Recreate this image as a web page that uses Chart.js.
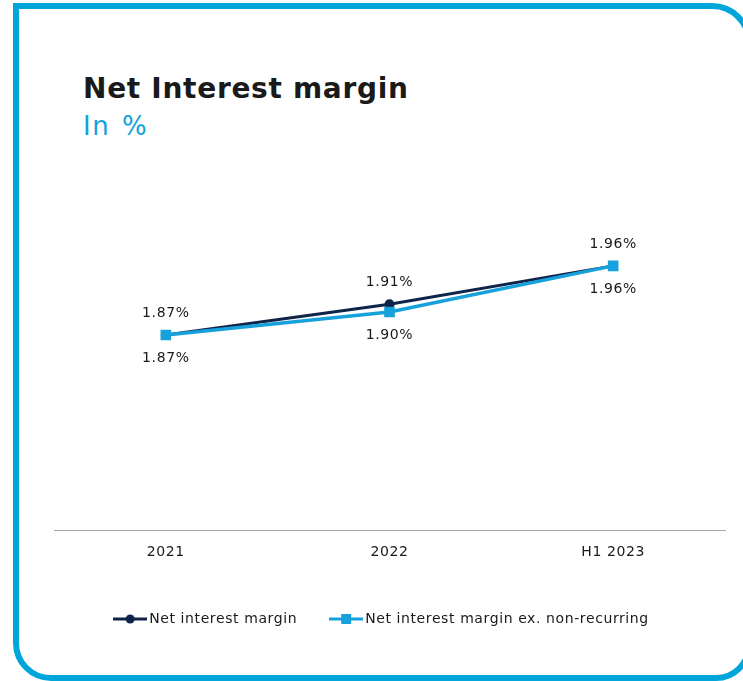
<!DOCTYPE html>
<html>
<head>
<meta charset="utf-8">
<script src="https://cdn.jsdelivr.net/npm/chart.js@4"></script>
<style>
  html, body { margin: 0; padding: 0; background: #fff; overflow: hidden; }
  body { width: 743px; height: 681px; position: relative; font-family: "DejaVu Sans", sans-serif; }
  .frame {
    position: absolute; left: 13px; top: 3px; width: 739px; height: 678px;
    box-sizing: border-box; border: 6px solid #00a6da;
    border-radius: 0 40px 36px 38px;
  }
  .title {
    position: absolute; left: 83px; top: 75px; margin: 0;
    font: bold 28px "DejaVu Sans", sans-serif; letter-spacing: 0.7px;
    color: #1a1a1a; line-height: 1;
  }
  .subtitle {
    position: absolute; left: 83px; top: 113px; margin: 0;
    font: 26px "DejaVu Sans", sans-serif; letter-spacing: 1.5px; word-spacing: 2px;
    color: #12a3dc; line-height: 1;
  }
  #nimChart { position: absolute; left: 0; top: 200px; }
</style>
</head>
<body>
<div class="frame"></div>
<h1 class="title">Net Interest margin</h1>
<h2 class="subtitle">In %</h2>
<canvas id="nimChart" width="743" height="436"></canvas>

<script>
// -----------------------------
// Data
// -----------------------------
const periods = ["2021", "2022", "H1 2023"];
const netInterestMargin = [1.87, 1.91, 1.96];
const nimExNonRecurring = [1.87, 1.90, 1.96];
const seriesNames = ["Net interest margin", "Net interest margin ex. non-recurring"];

const NAVY = "#0f2449";
const CYAN = "#16a1dc";

// -----------------------------
// Helper: legend marker (line with point)
// -----------------------------
function legendMarker(color, shape) {
  const c = document.createElement("canvas");
  c.width = 34;
  c.height = 12;
  const g = c.getContext("2d");
  g.strokeStyle = color;
  g.fillStyle = color;
  g.lineWidth = 3;
  g.beginPath();
  g.moveTo(0, 6);
  g.lineTo(34, 6);
  g.stroke();
  if (shape === "circle") {
    g.beginPath();
    g.arc(17, 6, 4.5, 0, Math.PI * 2);
    g.fill();
  } else {
    g.fillRect(12, 1, 10, 10);
  }
  return c;
}

// -----------------------------
// Plugin: wider text spacing (set before layout so measuring matches drawing),
// and nudge the legend a bit to the left
// -----------------------------
const textSpacing = {
  id: "textSpacing",
  beforeUpdate(chart) { chart.ctx.letterSpacing = "0.6px"; },
  afterLayout(chart) {
    chart.legend.left -= 6;
    chart.legend.right -= 6;
  }
};

// -----------------------------
// Plugin: value labels (above navy, below cyan)
// -----------------------------
const valueLabels = {
  id: "valueLabels",
  afterDatasetsDraw(chart) {
    const ctx = chart.ctx;
    const offsets = [-22, 23];
    ctx.save();
    ctx.font = '14px "DejaVu Sans"';
    ctx.fillStyle = "#1a1a1a";
    ctx.textAlign = "center";
    ctx.textBaseline = "middle";
    chart.data.datasets.forEach((ds, i) => {
      const meta = chart.getDatasetMeta(i);
      meta.data.forEach((pt, j) => {
        ctx.fillText(ds.data[j].toFixed(2) + "%", pt.x, pt.y + offsets[i]);
      });
    });
    ctx.restore();
  }
};

const markers = [legendMarker(NAVY, "circle"), legendMarker(CYAN, "rect")];

new Chart(document.getElementById("nimChart"), {
  type: "line",
  data: {
    labels: periods,
    datasets: [
      {
        label: seriesNames[0],
        data: netInterestMargin,
        borderColor: NAVY,
        backgroundColor: NAVY,
        borderWidth: 3,
        pointStyle: "circle",
        pointRadius: 5,
        pointBorderWidth: 0,
        order: 1
      },
      {
        label: seriesNames[1],
        data: nimExNonRecurring,
        borderColor: CYAN,
        backgroundColor: CYAN,
        borderWidth: 3.5,
        pointStyle: "rect",
        pointRadius: 7.5,
        pointBorderWidth: 0,
        order: 0
      }
    ]
  },
  options: {
    responsive: false,
    animation: false,
    layout: { padding: { left: 54, right: 18, top: 0, bottom: 0 } },
    scales: {
      x: {
        offset: true,
        grid: { display: false },
        border: { color: "#a6a6a6", width: 1 },
        ticks: { color: "#1a1a1a", padding: 6, font: { family: "DejaVu Sans", size: 14 } },
        afterFit: (scale) => { scale.height += 8; }
      },
      y: { display: false, min: 1.616, max: 2.036 }
    },
    plugins: {
      tooltip: { enabled: false },
      legend: {
        position: "bottom",
        labels: {
          usePointStyle: true,
          pointStyleWidth: 24,
          padding: 37,
          color: "#1a1a1a",
          font: { family: "DejaVu Sans", size: 14 },
          generateLabels: (chart) => chart.data.datasets.map((ds, i) => ({
            text: ds.label,
            pointStyle: markers[i],
            fillStyle: ds.borderColor,
            strokeStyle: ds.borderColor,
            fontColor: "#1a1a1a",
            datasetIndex: i
          }))
        }
      }
    }
  },
  plugins: [textSpacing, valueLabels]
});
</script>
</body>
</html>
